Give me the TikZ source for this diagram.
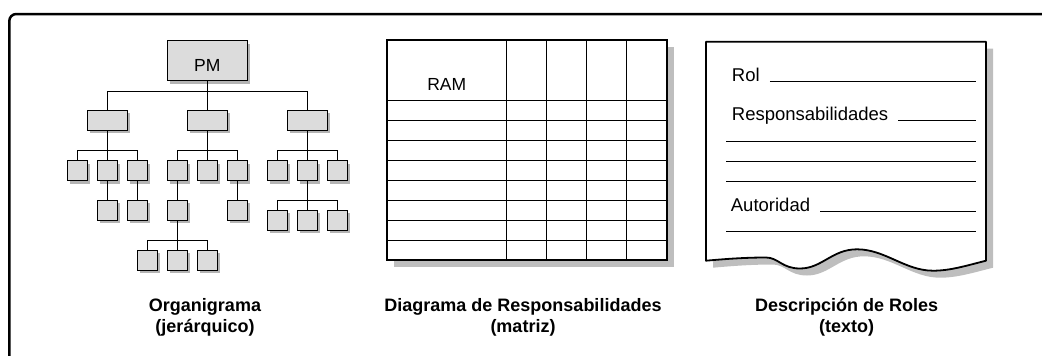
\documentclass[tikz,border=0pt]{standalone}
\usepackage{fontspec}
\setmainfont{Liberation Sans}
\usetikzlibrary{shadows}
\definecolor{boxgray}{HTML}{DCDCDC}
\definecolor{shadegray}{HTML}{B4B4B4}
\definecolor{lightshade}{HTML}{BEBEBE}
\begin{document}
\begin{tikzpicture}[x=1pt,y=-1pt,
  tbox/.style={draw, line width=1pt, fill=boxgray, inner sep=0pt,
    minimum width=20pt, minimum height=20pt,
    drop shadow={shadow xshift=3pt, shadow yshift=-3pt, fill=shadegray, opacity=1}},
  wbox/.style={tbox, minimum width=40pt},
  edge/.style={line width=1pt},
  doctext/.style={anchor=base west, inner sep=0pt, font=\fontsize{18.5}{22}\selectfont},
  docline/.style={line width=0.9pt},
  caption/.style={anchor=base, inner sep=0pt, font=\fontsize{18}{21}\selectfont\bfseries}
]
\useasboundingbox (0,0) rectangle (1042,356);

% outer frame
\draw[line width=2.5pt, rounded corners=7pt] (9.3,356) -- (9.3,14) -- (1042,14);

% ---------- Organigrama ----------
\node[tbox, minimum width=80pt, minimum height=40pt, text height=22pt, text depth=0pt,
      font=\fontsize{17.5}{20}\selectfont] (pm) at (207.3,60.7) {PM};
\node[wbox] (b1) at (107.3,120) {};
\node[wbox] (b2) at (207.3,120) {};
\node[wbox] (b3) at (307.3,120) {};
\foreach \n/\x in {c11/77.3,c12/107.3,c13/137.3,c21/177.3,c22/207.3,c23/237.3,c31/277.3,c32/307.3,c33/337.3}
  \node[tbox] (\n) at (\x,170.7) {};
\foreach \n/\x in {d12/107.3,d13/137.3,d21/177.3,d23/237.3}
  \node[tbox] (\n) at (\x,210.3) {};
\foreach \n/\x in {e1/277.3,e2/307.3,e3/337.3}
  \node[tbox] (\n) at (\x,220.3) {};
\foreach \n/\x in {f1/147.3,f2/177.3,f3/207.3}
  \node[tbox] (\n) at (\x,260.3) {};

\draw[edge] (pm.south) -- ++(0,10) coordinate (j0);
\draw[edge] (j0) -| (b1.north);
\draw[edge] (j0) -| (b3.north);
\draw[edge] (j0) -- (b2.north);
\foreach \p/\a/\b/\c in {b1/c11/c12/c13, b2/c21/c22/c23, b3/c31/c32/c33}{
  \draw[edge] (\p.south) -- ++(0,20) coordinate (jj);
  \draw[edge] (jj) -| (\a.north);
  \draw[edge] (jj) -| (\c.north);
  \draw[edge] (jj) -- (\b.north);
}
\draw[edge] (c12.south) -- (d12.north);
\draw[edge] (c13.south) -- (d13.north);
\draw[edge] (c21.south) -- (d21.north);
\draw[edge] (c23.south) -- (d23.north);
\draw[edge] (c32.south) -- ++(0,19.3) coordinate (je);
\draw[edge] (je) -| (e1.north);
\draw[edge] (je) -| (e3.north);
\draw[edge] (je) -- (e2.north);
\draw[edge] (d21.south) -- ++(0,19.3) coordinate (jf);
\draw[edge] (jf) -| (f1.north);
\draw[edge] (jf) -| (f3.north);
\draw[edge] (jf) -- (f2.north);

% ---------- Matriz RAM ----------
\fill[lightshade] (393.7,47) rectangle (673.7,267);
\fill[white] (386.7,40) rectangle (666.7,260);
\foreach \x in {506.7,546.7,586.7,626.7}
  \draw[line width=1pt] (\x,40) -- (\x,260);
\foreach \k in {0,...,7}
  \draw[line width=1pt] (386.7,100+20*\k) -- (666.7,100+20*\k);
\draw[line width=2pt] (386.7,40) rectangle (666.7,260);
\node[anchor=base, inner sep=0pt, font=\fontsize{17.5}{20}\selectfont] (ram) at (446.7,90) {RAM};

% ---------- Descripcion de roles ----------
\fill[lightshade] (713,48.7) -- (993,48.7) -- (993,267.7)
  .. controls (972,273) and (957,277.7) .. (940,277.7)
  .. controls (912,277.7) and (892,256.3) .. (864,256.3)
  .. controls (839,256.3) and (829,275.5) .. (807,275.5)
  .. controls (789,275.5) and (785,264.5) .. (773,264.5)
  .. controls (752,264.5) and (732,266) .. (713,267.7) -- cycle;
\draw[line width=1.8pt, fill=white, line join=round] (706,41.7) -- (986,41.7) -- (986,260.7)
  .. controls (965,266) and (950,270.7) .. (933,270.7)
  .. controls (905,270.7) and (885,249.3) .. (857,249.3)
  .. controls (832,249.3) and (822,268.5) .. (800,268.5)
  .. controls (782,268.5) and (778,257.5) .. (766,257.5)
  .. controls (745,257.5) and (725,259) .. (706,260.7) -- cycle;
\node[doctext] (rol) at (731.7,81.7) {Rol};
\node[doctext] (resp) at (731.7,120.7) {Responsabilidades};
\node[doctext] (aut) at (730.7,211.7) {Autoridad};
\draw[docline] ([xshift=10pt]rol.base east) -- (976,81.7);
\draw[docline] ([xshift=10pt]resp.base east) -- (976,120.7);
\draw[docline] ([xshift=10pt]aut.base east) -- (976,211.7);
\foreach \y in {141.7,161.7,181.7,231.7}
  \draw[docline] (726,\y) -- (976,\y);

% ---------- captions ----------
\node[caption] (cap1a) at (205,311.7) {Organigrama};
\node[caption] (cap1b) at (205,332.7) {(jerárquico)};
\node[caption] (cap2a) at (523,311.7) {Diagrama de Responsabilidades};
\node[caption] (cap2b) at (523,332.7) {(matriz)};
\node[caption] (cap3a) at (846.6,311.7) {Descripción de Roles};
\node[caption] (cap3b) at (846.6,332.7) {(texto)};
\end{tikzpicture}
\end{document}
